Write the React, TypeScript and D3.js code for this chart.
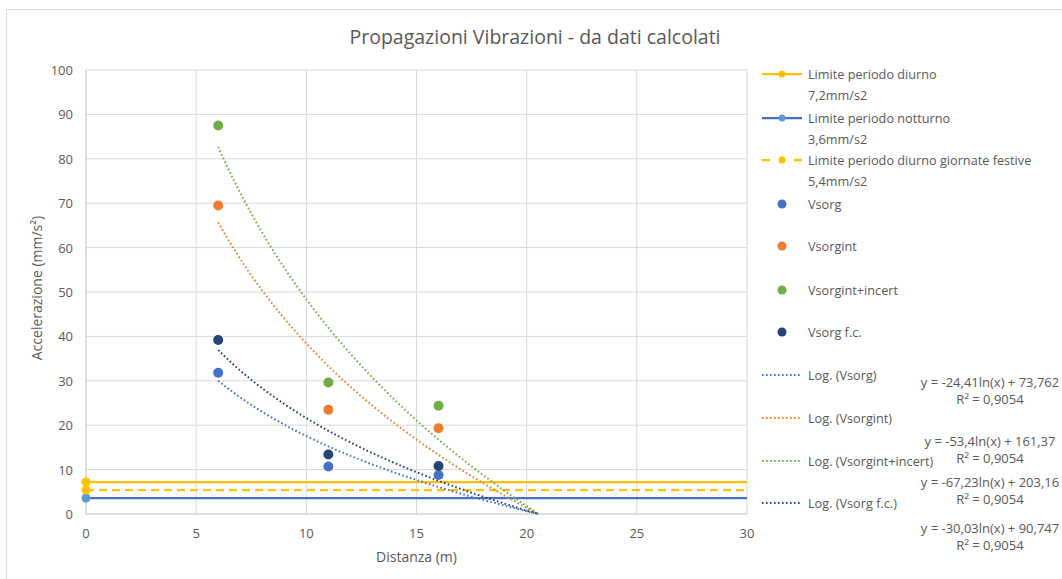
import React, { useEffect, useRef } from 'react';
import * as d3 from 'd3';

// scatter data (x = distanza in m, y = accelerazione in mm/s²)
const distances = [6, 11, 16];
const vsorg = [31.8, 10.7, 8.8];
const vsorgint = [69.5, 23.5, 19.3];
const vsorgintIncert = [87.5, 29.6, 24.4];
const vsorgFc = [39.2, 13.4, 10.8];

// limits
const limitNames = ['Limite periodo diurno\n7,2mm/s2', 'Limite periodo notturno\n3,6mm/s2', 'Limite periodo diurno giornate festive\n5,4mm/s2'];
const limitValues = [7.2, 3.6, 5.4];

// logarithmic trendlines: y = a ln(x) + b
const trendA = [-24.41, -53.4, -67.23, -30.03];
const trendB = [73.762, 161.37, 203.16, 90.747];
const trendLabels = [
  ['y = -24,41ln(x) + 73,762', 'R² = 0,9054'],
  ['y = -53,4ln(x) + 161,37', 'R² = 0,9054'],
  ['y = -67,23ln(x) + 203,16', 'R² = 0,9054'],
  ['y = -30,03ln(x) + 90,747', 'R² = 0,9054'],
];

const xTicks = [0, 5, 10, 15, 20, 25, 30];
const yTicks = [0, 10, 20, 30, 40, 50, 60, 70, 80, 90, 100];

const seriesNames = ['Vsorg', 'Vsorgint', 'Vsorgint+incert', 'Vsorg f.c.'];
const seriesColors = ['#4472C4', '#ED7D31', '#70AD47', '#264478'];
const seriesData = [vsorg, vsorgint, vsorgintIncert, vsorgFc];

const FONT = '"Open Sans", sans-serif';
const TXT = '#595959';

const App = () => {
  const ref = useRef<SVGSVGElement | null>(null);

  useEffect(() => {
    const svg = d3.select(ref.current);
    svg.selectAll('*').remove();

    svg.append('rect')
      .attr('x', 6.5).attr('y', 9.5).attr('width', 1070).attr('height', 600)
      .attr('fill', 'white').attr('stroke', '#D9D9D9');

    const x = d3.scaleLinear().domain([0, 30]).range([86, 747]);
    const y = d3.scaleLinear().domain([0, 100]).range([514, 70]);

    // title
    svg.append('text')
      .attr('x', 535).attr('y', 44).attr('text-anchor', 'middle')
      .attr('fill', TXT).style('font-family', FONT).style('font-size', '19.5px')
      .text('Propagazioni Vibrazioni - da dati calcolati');

    // grid
    const g = svg.append('g');
    g.selectAll('.hg').data(yTicks.slice(1)).enter().append('line')
      .attr('x1', x(0)).attr('x2', x(30)).attr('y1', d => y(d)).attr('y2', d => y(d))
      .attr('stroke', '#D9D9D9').attr('stroke-width', 1);
    g.selectAll('.vg').data(xTicks.slice(1)).enter().append('line')
      .attr('x1', d => x(d)).attr('x2', d => x(d)).attr('y1', y(0)).attr('y2', y(100))
      .attr('stroke', '#D9D9D9').attr('stroke-width', 1);
    g.append('line').attr('x1', x(0)).attr('x2', x(0)).attr('y1', y(0)).attr('y2', y(100))
      .attr('stroke', '#BFBFBF');
    g.append('line').attr('x1', x(0)).attr('x2', x(30)).attr('y1', y(0)).attr('y2', y(0))
      .attr('stroke', '#BFBFBF');

    // tick labels
    svg.selectAll('.yt').data(yTicks).enter().append('text')
      .attr('x', 73).attr('y', d => y(d) + 5).attr('text-anchor', 'end')
      .attr('fill', TXT).style('font-family', FONT).style('font-size', '13px')
      .text(d => d);
    svg.selectAll('.xt').data(xTicks).enter().append('text')
      .attr('x', d => x(d)).attr('y', 538).attr('text-anchor', 'middle')
      .attr('fill', TXT).style('font-family', FONT).style('font-size', '13px')
      .text(d => d);

    svg.append('text')
      .attr('x', x(15)).attr('y', 562).attr('text-anchor', 'middle')
      .attr('fill', TXT).style('font-family', FONT).style('font-size', '14px')
      .text('Distanza (m)');
    svg.append('text')
      .attr('transform', `translate(42,288) rotate(-90)`).attr('text-anchor', 'middle')
      .attr('fill', TXT).style('font-family', FONT).style('font-size', '14px')
      .text('Accelerazione (mm/s²)');

    // limit lines
    const limitColors = ['#FFC000', '#4472C4', '#FFC000'];
    const limitMarkers = ['#FFC000', '#5B9BD5', '#FFC000'];
    const limitDash = [null, null, '8,5'];
    limitValues.forEach((v, i) => {
      svg.append('line')
        .attr('x1', x(0)).attr('x2', x(30)).attr('y1', y(v)).attr('y2', y(v))
        .attr('stroke', limitColors[i]).attr('stroke-width', 2.25)
        .attr('stroke-dasharray', limitDash[i]);
      svg.append('circle').attr('cx', x(0)).attr('cy', y(v)).attr('r', 4.5)
        .attr('fill', limitMarkers[i]);
    });

    // trendlines
    trendA.forEach((a, i) => {
      const b = trendB[i];
      const xEnd = Math.exp(-b / a);
      const pts = d3.range(6, xEnd, 0.1).concat([xEnd]).map(t => [t, Math.max(0, a * Math.log(t) + b)] as [number, number]);
      svg.append('path')
        .attr('d', d3.line<[number, number]>().x(d => x(d[0])).y(d => y(d[1]))(pts))
        .attr('fill', 'none').attr('stroke', seriesColors[i]).attr('stroke-width', 2)
        .attr('stroke-dasharray', '1.6,2.4').attr('stroke-linecap', 'butt');
    });

    // scatter points
    seriesData.forEach((vals, i) => {
      svg.selectAll(`.pt${i}`).data(vals).enter().append('circle')
        .attr('cx', (_, j) => x(distances[j])).attr('cy', d => y(d)).attr('r', 5)
        .attr('fill', seriesColors[i]);
    });

    // legend
    const lg = svg.append('g');
    const lx1 = 762, lx2 = 802, tx = 808;
    const addText = (t: string, yy: number) => {
      t.split('\n').forEach((line, k) => {
        lg.append('text').attr('x', tx).attr('y', yy + 5 + k * 21)
          .attr('fill', TXT).style('font-family', FONT).style('font-size', '12.7px').text(line);
      });
    };
    const limitRows = [74, 118, 160];
    limitNames.forEach((n, i) => {
      const yy = limitRows[i];
      lg.append('line').attr('x1', lx1).attr('x2', lx2).attr('y1', yy).attr('y2', yy)
        .attr('stroke', limitColors[i]).attr('stroke-width', 2.25)
        .attr('stroke-dasharray', i === 2 ? '8,24' : null);
      if (i === 2) {
        lg.append('line').attr('x1', lx2 - 8).attr('x2', lx2).attr('y1', yy).attr('y2', yy)
          .attr('stroke', limitColors[i]).attr('stroke-width', 2.25);
      }
      lg.append('circle').attr('cx', (lx1 + lx2) / 2).attr('cy', yy).attr('r', 3.5).attr('fill', limitMarkers[i]);
      addText(n, yy);
    });
    const ptRows = [204, 246, 290, 332];
    seriesNames.forEach((n, i) => {
      lg.append('circle').attr('cx', (lx1 + lx2) / 2).attr('cy', ptRows[i]).attr('r', 4.5).attr('fill', seriesColors[i]);
      addText(n, ptRows[i]);
    });
    const trRows = [375, 418, 461, 503];
    seriesNames.forEach((n, i) => {
      lg.append('line').attr('x1', lx1).attr('x2', lx2).attr('y1', trRows[i]).attr('y2', trRows[i])
        .attr('stroke', seriesColors[i]).attr('stroke-width', 2).attr('stroke-dasharray', '1.6,2.4');
      addText(`Log. (${n})`, trRows[i]);
    });

    // trendline equation labels
    const eqRows = [382, 441, 482, 528];
    trendLabels.forEach((lines, i) => {
      lines.forEach((t, k) => {
        svg.append('text').attr('x', 990).attr('y', eqRows[i] + 5 + k * 17).attr('text-anchor', 'middle')
          .attr('fill', TXT).style('font-family', FONT).style('font-size', '13px').text(t);
      });
    });
  }, []);

  return (
    <svg ref={ref} width={1062} height={579} style={{ position: 'absolute', left: 0, top: 0, background: 'white' }} />
  );
};

export default App;
